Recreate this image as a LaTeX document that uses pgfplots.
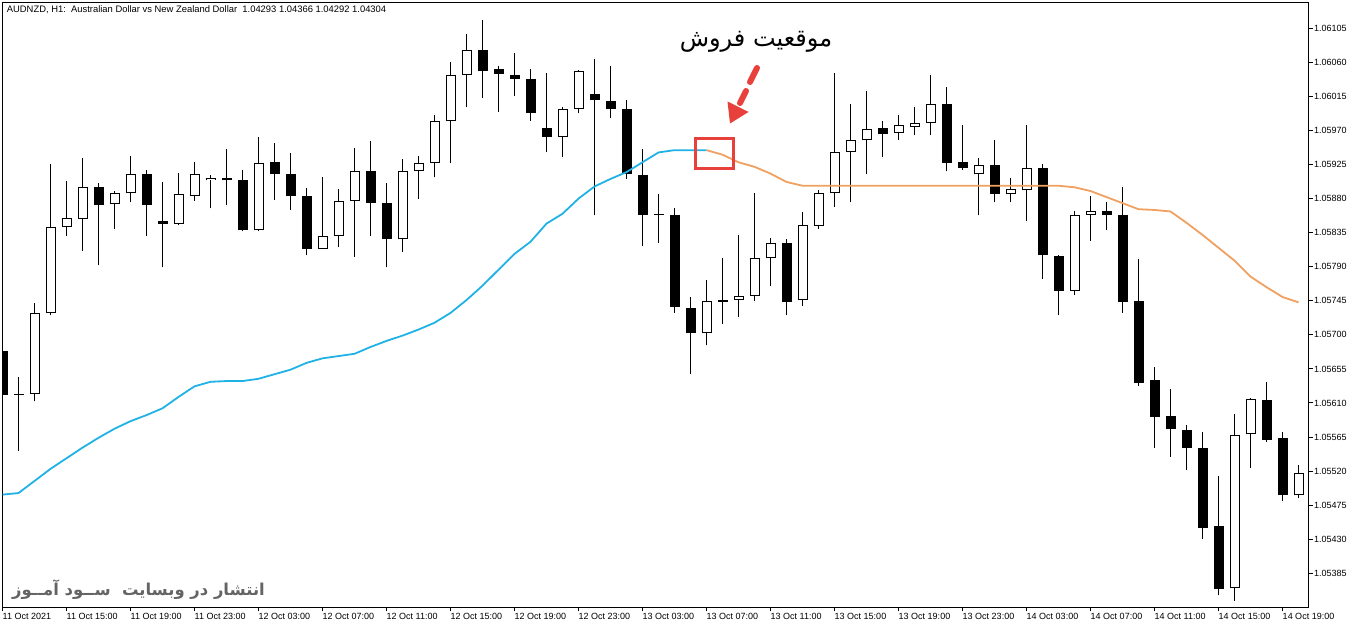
\documentclass[border=0pt]{standalone}
\usepackage{pgfplots}
\pgfplotsset{compat=1.18}
\usepackage{pgfplotstable}
\usepackage{fontspec}
\setmainfont{Liberation Sans}
\newfontfamily\arabicfont[Script=Arabic]{DejaVu Sans}
\TeXXeTstate=1

\definecolor{maBlue}{RGB}{32,178,228}
\definecolor{maOrange}{RGB}{240,160,96}
\definecolor{markRed}{RGB}{232,65,60}
\definecolor{wmGray}{RGB}{100,100,100}

% AUDNZD H1 candles: x = bar index (0 = 11 Oct 11:00), o h l c, m = moving average
\pgfplotstableread{
x o h l c m
0 1.05679 1.05683 1.05617 1.05620 1.05489
1 1.05621 1.05644 1.05547 1.05620 1.05491
2 1.05622 1.05742 1.05612 1.05729 1.05507
3 1.05729 1.05926 1.05726 1.05842 1.05523
4 1.05842 1.05903 1.05830 1.05854 1.05537
5 1.05853 1.05934 1.05811 1.05895 1.05551
6 1.05895 1.05901 1.05792 1.05872 1.05564
7 1.05873 1.05890 1.05840 1.05887 1.05576
8 1.05887 1.05936 1.05875 1.05912 1.05586
9 1.05912 1.05918 1.05830 1.05872 1.05594
10 1.05850 1.05902 1.05789 1.05846 1.05603
11 1.05847 1.05914 1.05845 1.05886 1.05618
12 1.05884 1.05928 1.05877 1.05913 1.05632
13 1.05904 1.05911 1.05867 1.05907 1.05638
14 1.05907 1.05946 1.05872 1.05904 1.05639
15 1.05905 1.05918 1.05837 1.05838 1.05639
16 1.05838 1.05962 1.05837 1.05927 1.05642
17 1.05928 1.05953 1.05878 1.05913 1.05648
18 1.05912 1.05940 1.05865 1.05883 1.05654
19 1.05883 1.05894 1.05805 1.05814 1.05663
20 1.05814 1.05909 1.05813 1.05831 1.05669
21 1.05831 1.05893 1.05816 1.05877 1.05672
22 1.05877 1.05947 1.05803 1.05916 1.05675
23 1.05916 1.05956 1.05831 1.05874 1.05684
24 1.05874 1.05901 1.05789 1.05826 1.05692
25 1.05826 1.05932 1.05810 1.05916 1.05699
26 1.05916 1.05936 1.05880 1.05927 1.05707
27 1.05927 1.05990 1.05908 1.05982 1.05716
28 1.05982 1.06060 1.05927 1.06043 1.05729
29 1.06043 1.06098 1.06001 1.06076 1.05746
30 1.06076 1.06116 1.06013 1.06048 1.05765
31 1.06051 1.06055 1.05995 1.06045 1.05786
32 1.06043 1.06072 1.06016 1.06038 1.05807
33 1.06038 1.06051 1.05983 1.05993 1.05823
34 1.05973 1.06046 1.05941 1.05962 1.05847
35 1.05962 1.06001 1.05935 1.05998 1.05860
36 1.05999 1.06050 1.05993 1.06049 1.05880
37 1.06018 1.06064 1.05858 1.06010 1.05896
38 1.06009 1.06055 1.05987 1.05998 1.05906
39 1.05998 1.06010 1.05906 1.05912 1.05915
40 1.05911 1.05946 1.05818 1.05859 1.05928
41 1.05858 1.05886 1.05822 1.05859 1.05941
42 1.05858 1.05867 1.05729 1.05737 1.05944
43 1.05736 1.05750 1.05648 1.05702 1.05944
44 1.05702 1.05772 1.05686 1.05745 1.05944
45 1.05746 1.05802 1.05714 1.05744 1.05938
46 1.05746 1.05832 1.05724 1.05752 1.05928
47 1.05752 1.05888 1.05745 1.05801 1.05922
48 1.05801 1.05828 1.05764 1.05822 1.05913
49 1.05822 1.05826 1.05726 1.05744 1.05902
50 1.05746 1.05862 1.05738 1.05845 1.05897
51 1.05844 1.05891 1.05840 1.05887 1.05897
52 1.05887 1.06046 1.05869 1.05941 1.05897
53 1.05942 1.06005 1.05875 1.05957 1.05897
54 1.05957 1.06022 1.05913 1.05972 1.05897
55 1.05973 1.05982 1.05935 1.05965 1.05897
56 1.05967 1.05990 1.05957 1.05977 1.05897
57 1.05974 1.06001 1.05964 1.05980 1.05897
58 1.05980 1.06043 1.05964 1.06005 1.05897
59 1.06005 1.06027 1.05916 1.05927 1.05897
60 1.05928 1.05977 1.05918 1.05921 1.05897
61 1.05912 1.05933 1.05858 1.05924 1.05897
62 1.05924 1.05957 1.05875 1.05886 1.05897
63 1.05886 1.05907 1.05875 1.05893 1.05897
64 1.05891 1.05977 1.05851 1.05920 1.05897
65 1.05920 1.05926 1.05774 1.05805 1.05897
66 1.05804 1.05806 1.05726 1.05758 1.05897
67 1.05758 1.05863 1.05753 1.05858 1.05895
68 1.05859 1.05884 1.05824 1.05863 1.05890
69 1.05863 1.05876 1.05838 1.05858 1.05882
70 1.05859 1.05895 1.05729 1.05744 1.05874
71 1.05745 1.05800 1.05633 1.05637 1.05866
72 1.05640 1.05658 1.05551 1.05592 1.05865
73 1.05593 1.05628 1.05539 1.05575 1.05863
74 1.05575 1.05581 1.05521 1.05551 1.05848
75 1.05551 1.05572 1.05431 1.05445 1.05832
76 1.05447 1.05513 1.05356 1.05364 1.05815
77 1.05365 1.05595 1.05349 1.05568 1.05798
78 1.05569 1.05617 1.05524 1.05615 1.05777
79 1.05614 1.05638 1.05559 1.05561 1.05763
80 1.05564 1.05572 1.05481 1.05488 1.05750
81 1.05488 1.05528 1.05484 1.05518 1.05743
}\candles

\pgfplotsset{
  candlebar/.style={forget plot, only marks, mark=*, mark size=0pt,
    mark options={draw=none, fill=none},
    error bars/.cd, y dir=plus, y explicit, error mark=none},
}

\begin{document}
\begin{tikzpicture}
  \useasboundingbox (0,0) rectangle (1362pt,-628pt);
  \begin{axis}[
      at={(2.5pt,-2.7pt)}, anchor=north west,
      scale only axis, width=1306.4pt, height=604.3pt,
      xmin=0, xmax=81.65,
      ymin=1.053405, ymax=1.061388,
      axis line style={line width=1pt, black},
      tick align=outside, major tick length=4pt,
      tick style={line width=1pt, black},
      xtick pos=bottom, ytick pos=right,
      xticklabel pos=bottom, yticklabel pos=right,
      xtick={0,4,...,80},
      xticklabels={11 Oct 2021, 11 Oct 15:00, 11 Oct 19:00, 11 Oct 23:00,
        12 Oct 03:00, 12 Oct 07:00, 12 Oct 11:00, 12 Oct 15:00, 12 Oct 19:00,
        12 Oct 23:00, 13 Oct 03:00, 13 Oct 07:00, 13 Oct 11:00, 13 Oct 15:00,
        13 Oct 19:00, 13 Oct 23:00, 14 Oct 03:00, 14 Oct 07:00, 14 Oct 11:00,
        14 Oct 15:00, 14 Oct 19:00},
      ytick={1.05385,1.05430,1.05475,1.05520,1.05565,1.05610,1.05655,1.05700,
        1.05745,1.05790,1.05835,1.05880,1.05925,1.05970,1.06015,1.06060,1.06105},
      yticklabels={1.05385,1.05430,1.05475,1.05520,1.05565,1.05610,1.05655,1.05700,
        1.05745,1.05790,1.05835,1.05880,1.05925,1.05970,1.06015,1.06060,1.06105},
      ticklabel style={font=\fontsize{9}{10}\selectfont, inner sep=0pt},
      xticklabel style={anchor=north west, yshift=-2pt},
      yticklabel style={anchor=west, xshift=1pt},
    ]

    % wicks
    \addplot[candlebar, error bar style={draw=black, line width=1pt}]
      table[x=x, y=l, y error expr={\thisrow{h}-\thisrow{l}}] {\candles};
    % bodies (outline / bearish fill)
    \addplot[candlebar, error bar style={draw=black, line width=10pt}]
      table[x=x, y expr={min(\thisrow{o},\thisrow{c})},
        y error expr={max(abs(\thisrow{c}-\thisrow{o}),0.0000132)}] {\candles};
    % hollow inside of bullish bodies
    \addplot[candlebar, error bar style={draw=white, line width=8pt}]
      table[x=x, y expr={\thisrow{o}+0.0000132},
        y error expr={max(\thisrow{c}-\thisrow{o}-0.0000264,0)}] {\candles};

    % moving average, blue before the cross, orange after
    \addplot[maBlue, line width=1.8pt, no marks, restrict x to domain=0:44]
      table[x=x, y=m] {\candles};
    \addplot[maOrange, line width=1.8pt, no marks, restrict x to domain=44:81]
      table[x=x, y=m] {\candles};
  \end{axis}

  % header text
  \node[anchor=base west, inner sep=0pt, font=\fontsize{9.4}{10}\selectfont]
    at (6.7pt,-13pt) {AUDNZD, H1:\ \ Australian Dollar vs New Zealand Dollar\ \ 1.04293 1.04366 1.04292 1.04304};

  % sell-position annotation
  \node[anchor=base, inner sep=0pt, font=\arabicfont\fontsize{24}{28}\selectfont]
    at (756pt,-47pt) {\beginR موقعیت فروش\endR};
  \draw[markRed, line width=6pt, line cap=round] (757pt,-68pt) -- (750pt,-82pt);
  \draw[markRed, line width=6pt, line cap=round] (746pt,-91pt) -- (740pt,-103pt);
  \fill[markRed] (730pt,-123.5pt) -- (727.5pt,-101.5pt) -- (748.5pt,-112pt) -- cycle;
  \draw[markRed, line width=3pt] (695.5pt,-138.5pt) rectangle (733.5pt,-169pt);

  % watermark
  \node[anchor=base east, inner sep=0pt, text=wmGray,
    font=\arabicfont\bfseries\fontsize{16.4}{19}\selectfont]
    at (265pt,-595pt) {\beginR انتشار در وبسایت\ \ ســود آمــوز\endR};
\end{tikzpicture}
\end{document}
